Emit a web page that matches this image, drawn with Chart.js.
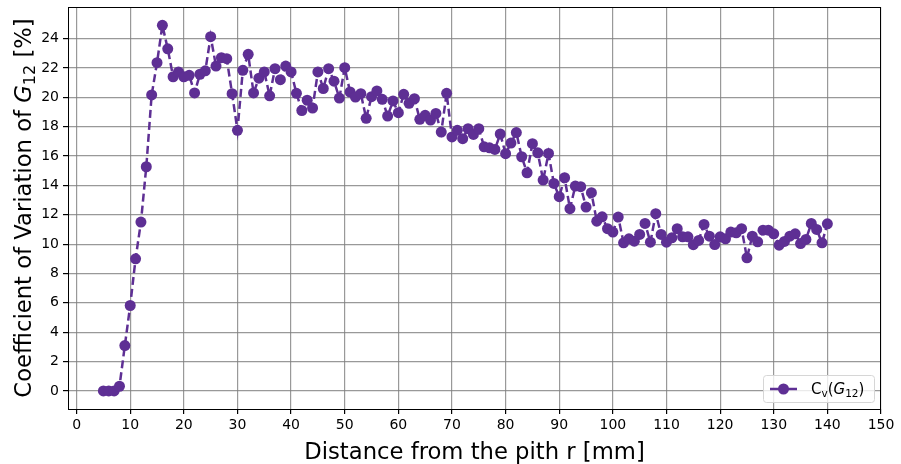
<!DOCTYPE html>
<html>
<head>
<meta charset="utf-8">
<script src="https://cdn.jsdelivr.net/npm/chart.js@4/dist/chart.umd.min.js"></script>
<style>
  html, body { margin: 0; padding: 0; background: #fff; }
  #wrap { width: 901px; height: 464px; }
</style>
</head>
<body>
<div id="wrap"><canvas id="chart"></canvas></div>
<script>
// distance from the pith [mm]
const distances = [5, 6, 7, 8, 9, 10, 11, 12, 13, 14, 15, 16, 17, 18, 19, 20, 21, 22, 23, 24,
  25, 26, 27, 28, 29, 30, 31, 32, 33, 34, 35, 36, 37, 38, 39, 40, 41, 42, 43, 44,
  45, 46, 47, 48, 49, 50, 51, 52, 53, 54, 55, 56, 57, 58, 59, 60, 61, 62, 63, 64,
  65, 66, 67, 68, 69, 70, 71, 72, 73, 74, 75, 76, 77, 78, 79, 80, 81, 82, 83, 84,
  85, 86, 87, 88, 89, 90, 91, 92, 93, 94, 95, 96, 97, 98, 99, 100, 101, 102, 103, 104,
  105, 106, 107, 108, 109, 110, 111, 112, 113, 114, 115, 116, 117, 118, 119, 120, 121, 122, 123, 124,
  125, 126, 127, 128, 129, 130, 131, 132, 133, 134, 135, 136, 137, 138, 139, 140];

// coefficient of variation of G12 [%]
const cvG12 = [0, 0, 0, 0.32, 3.09, 5.82, 9.0, 11.5, 15.27, 20.16, 22.36, 24.9, 23.3, 21.4, 21.73, 21.4, 21.5, 20.3, 21.57, 21.8,
  24.13, 22.13, 22.7, 22.63, 20.25, 17.75, 21.84, 22.93, 20.3, 21.3, 21.73, 20.1, 21.95, 21.2, 22.13, 21.73, 20.27, 19.1, 19.8, 19.27,
  21.73, 20.6, 21.95, 21.1, 19.95, 22.02, 20.36, 20.02, 20.25, 18.57, 20.04, 20.43, 19.86, 18.72, 19.75, 18.95, 20.2, 19.59, 19.9, 18.5,
  18.77, 18.45, 18.9, 17.63, 20.27, 17.3, 17.75, 17.18, 17.86, 17.47, 17.86, 16.63, 16.56, 16.45, 17.5, 16.16, 16.88, 17.6, 15.95, 14.86,
  16.84, 16.22, 14.36, 16.18, 14.13, 13.23, 14.52, 12.41, 13.95, 13.91, 12.52, 13.5, 11.56, 11.86, 11.05, 10.82, 11.84, 10.09, 10.36, 10.2,
  10.66, 11.41, 10.13, 12.07, 10.66, 10.13, 10.43, 11.05, 10.5, 10.5, 9.96, 10.25, 11.34, 10.54, 9.97, 10.5, 10.36, 10.82, 10.77, 11.05,
  9.07, 10.54, 10.16, 10.95, 10.95, 10.7, 9.93, 10.18, 10.54, 10.7, 10.04, 10.32, 11.41, 11.0, 10.09, 11.38];

const xTicks = [0, 10, 20, 30, 40, 50, 60, 70, 80, 90, 100, 110, 120, 130, 140, 150];
const yTicks = [0, 2, 4, 6, 8, 10, 12, 14, 16, 18, 20, 22, 24];

const purple = '#5e2f94';
const font = 'DejaVu Sans';

// draws the frame, the axis titles (with italic G and subscripts) and the legend
const decorations = {
  id: 'decorations',
  afterDraw(chart) {
    const ctx = chart.ctx;
    const a = chart.chartArea;
    ctx.save();
    ctx.strokeStyle = '#000';
    ctx.lineWidth = 1;
    ctx.strokeRect(a.left + 0.5, a.top + 0.5, a.right - a.left - 1, a.bottom - a.top);

    // x title
    ctx.fillStyle = '#000';
    ctx.font = '22.7px "' + font + '"';
    ctx.textAlign = 'center';
    ctx.textBaseline = 'alphabetic';
    ctx.fillText('Distance from the pith r [mm]', (a.left + a.right) / 2, 459);

    // y title, rotated
    const parts = [
      { t: 'Coefficient of Variation of ', f: '22.7px "' + font + '"', dy: 0 },
      { t: 'G', f: 'italic 22.7px "' + font + '"', dy: 0 },
      { t: '12', f: '16px "' + font + '"', dy: 4 },
      { t: ' [%]', f: '22.7px "' + font + '"', dy: 0 }
    ];
    let total = 0;
    parts.forEach(p => { ctx.font = p.f; p.w = ctx.measureText(p.t).width; total += p.w; });
    ctx.translate(31, (a.top + a.bottom) / 2);
    ctx.rotate(-Math.PI / 2);
    ctx.textAlign = 'left';
    let px = -total / 2;
    parts.forEach(p => { ctx.font = p.f; ctx.fillText(p.t, px, p.dy); px += p.w; });
    ctx.setTransform(1, 0, 0, 1, 0, 0);

    // legend
    const bx = 763, by = 375, bw = 111, bh = 27;
    ctx.beginPath();
    ctx.roundRect(bx + 0.5, by + 0.5, bw, bh, 3);
    ctx.fillStyle = 'rgba(255,255,255,0.8)';
    ctx.fill();
    ctx.strokeStyle = '#d6d6d6';
    ctx.stroke();
    const ly = by + bh / 2 + 0.5;
    ctx.strokeStyle = purple;
    ctx.lineWidth = 2.5;
    ctx.beginPath();
    ctx.moveTo(770, ly);
    ctx.lineTo(797, ly);
    ctx.stroke();
    ctx.fillStyle = purple;
    ctx.beginPath();
    ctx.arc(783.5, ly, 5.5, 0, Math.PI * 2);
    ctx.fill();
    const lparts = [
      { t: 'C', f: '15px "' + font + '"', dy: 0 },
      { t: 'v', f: '10.5px "' + font + '"', dy: 3 },
      { t: '(', f: '15px "' + font + '"', dy: 0 },
      { t: 'G', f: 'italic 15px "' + font + '"', dy: 0 },
      { t: '12', f: '10.5px "' + font + '"', dy: 3 },
      { t: ')', f: '15px "' + font + '"', dy: 0 }
    ];
    ctx.fillStyle = '#000';
    let lx = 811;
    lparts.forEach(p => {
      ctx.font = p.f;
      ctx.fillText(p.t, lx, ly + 5 + p.dy);
      lx += ctx.measureText(p.t).width;
    });
    ctx.restore();
  }
};

const ctx = document.getElementById('chart').getContext('2d');
new Chart(ctx, {
  type: 'line',
  data: {
    datasets: [{
      label: 'Cv(G12)',
      data: distances.map((d, i) => ({ x: d, y: cvG12[i] })),
      borderColor: purple,
      backgroundColor: purple,
      borderWidth: 2.5,
      borderDash: [8, 4],
      pointRadius: 5.5,
      pointBorderWidth: 0,
      pointBackgroundColor: purple,
      tension: 0,
      fill: false
    }]
  },
  options: {
    responsive: true,
    maintainAspectRatio: false,
    animation: false,
    layout: { padding: { top: 7, right: 20, left: 0, bottom: 0 } },
    plugins: {
      legend: { display: false },
      tooltip: { enabled: false }
    },
    scales: {
      x: {
        type: 'linear',
        min: -1.6,
        max: 150,
        afterBuildTicks: s => { s.ticks = xTicks.map(v => ({ value: v })); },
        afterFit: s => { s.height = 55; s.paddingLeft = 0; s.paddingRight = 0; },
        ticks: {
          color: '#000',
          font: { family: font, size: 14 },
          padding: 3,
          maxRotation: 0,
          callback: v => String(v)
        },
        grid: { color: 'rgba(128,128,128,0.8)', lineWidth: 1.2, tickLength: 5, tickColor: '#000' },
        border: { color: '#000', width: 1 }
      },
      y: {
        min: -1.23,
        max: 26.15,
        afterBuildTicks: s => { s.ticks = yTicks.map(v => ({ value: v })); },
        afterFit: s => { s.width = 68; s.paddingTop = 0; s.paddingBottom = 0; },
        ticks: {
          color: '#000',
          font: { family: font, size: 14 },
          padding: 4,
          callback: v => String(v)
        },
        grid: { color: 'rgba(128,128,128,0.8)', lineWidth: 1.2, tickLength: 5, tickColor: '#000' },
        border: { color: '#000', width: 1 }
      }
    }
  },
  plugins: [decorations]
});
</script>
</body>
</html>
